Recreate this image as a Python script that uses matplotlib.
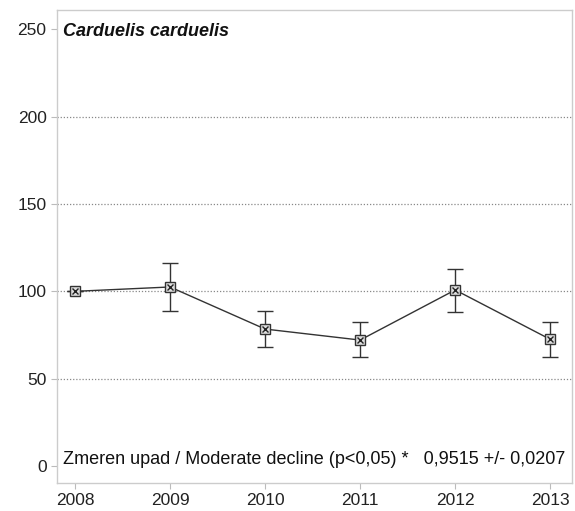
import matplotlib
matplotlib.use("Agg")
import matplotlib.pyplot as plt

plt.rcParams['font.family'] = ['Liberation Sans', 'DejaVu Sans']

years = [2008, 2009, 2010, 2011, 2012, 2013]
index = [100.0, 102.5, 78.4, 72.1, 100.8, 72.5]
upper = [100.0, 116.2, 88.9, 82.3, 113.0, 82.3]
lower = [100.0, 88.9, 68.3, 62.2, 88.4, 62.6]
species = "Carduelis carduelis"
trend = "Zmeren upad / Moderate decline (p<0,05) *   0,9515 +/- 0,0207"

err_lo = [v - l for v, l in zip(index, lower)]
err_hi = [u - v for v, u in zip(index, upper)]

fig = plt.figure(figsize=(5.75, 5.11), dpi=100)
ax = fig.add_axes([0.099, 0.055, 0.896, 0.925])

for g in [50, 100, 150, 200]:
    ax.axhline(g, color='#888888', linestyle=(0, (1, 1.5)), linewidth=0.9, zorder=1)

ax.errorbar(years, index, yerr=[err_lo, err_hi], color='#333333', linewidth=1.0,
            elinewidth=1.0, capsize=6, capthick=1.0, zorder=3,
            marker='s', markersize=7, markerfacecolor='#dddddd', markeredgecolor='#333333',
            markeredgewidth=1.0)
ax.plot(years, index, linestyle='none', marker='x', markersize=5, color='#222222',
        markeredgewidth=1.0, zorder=4)

ax.set_xlim(2007.81, 2013.23)
ax.set_ylim(-9.7, 261)
ax.set_xticks(years)
ax.set_yticks([0, 50, 100, 150, 200, 250])
ax.tick_params(labelsize=12.5, colors='#222222', length=4, color='#bbbbbb')
for s in ax.spines.values():
    s.set_color('#cccccc')
    s.set_linewidth(1.0)

ax.text(0.012, 0.955, species, transform=ax.transAxes, fontsize=13,
        fontweight='bold', fontstyle='italic', va='center', ha='left', color='#111111')
ax.text(0.012, 0.05, trend, transform=ax.transAxes, fontsize=13,
        va='center', ha='left', color='#111111')

fig.savefig("out.png", dpi=100)
